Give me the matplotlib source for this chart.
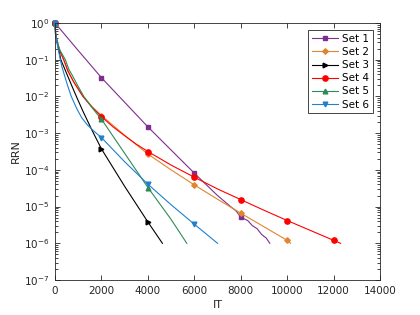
import numpy as np
import matplotlib
matplotlib.use("Agg")
import matplotlib.pyplot as plt
from matplotlib.ticker import NullFormatter, FixedLocator

# iterations and log10(RRN)
it1 = [0, 1000, 2000, 3000, 4000, 5000, 6000, 7000, 7600, 7800, 8000, 8300, 8500, 8700, 8900, 9100, 9250]
lg1 = [0, -0.75, -1.49, -2.16, -2.83, -3.46, -4.09, -4.70, -5.02, -5.12, -5.29, -5.38, -5.52, -5.60, -5.76, -5.86, -6.0]

it2 = [0, 30, 85, 200, 375, 550, 800, 1200, 1600, 2000, 3000, 4000, 5000, 6000, 7000, 8000, 9000, 10000, 10150]
lg2 = [0, -0.3, -0.5, -0.75, -1.0, -1.3, -1.6, -1.99, -2.28, -2.52, -3.06, -3.57, -4.0, -4.41, -4.80, -5.18, -5.55, -5.92, -6.0]

it3 = [0, 20, 85, 250, 450, 850, 1200, 1600, 2000, 3000, 4000, 4625]
lg3 = [0, -0.3, -0.5, -1.0, -1.3, -1.9, -2.4, -2.93, -3.43, -4.45, -5.42, -6.0]

it4 = [0, 30, 85, 200, 375, 550, 800, 1200, 1600, 2000, 2500, 3000, 3500, 4000, 5000, 6000, 7000, 8000, 9000, 10000, 11000, 12000, 12300]
lg4 = [0, -0.3, -0.5, -0.75, -1.0, -1.3, -1.6, -2.0, -2.3, -2.55, -2.83, -3.07, -3.3, -3.5, -3.87, -4.2, -4.52, -4.81, -5.1, -5.38, -5.65, -5.92, -6.0]

it5 = [0, 30, 85, 220, 445, 600, 730, 1000, 1240, 1650, 2000, 3000, 4000, 5000, 5675]
lg5 = [0, -0.3, -0.5, -0.75, -1.0, -1.27, -1.41, -1.73, -2.0, -2.35, -2.62, -3.55, -4.48, -5.35, -6.0]

it6 = [0, 20, 85, 230, 300, 400, 550, 700, 950, 1150, 1400, 1700, 2000, 3000, 4000, 5000, 6000, 7000]
lg6 = [0, -0.3, -0.55, -1.0, -1.2, -1.41, -1.72, -2.0, -2.35, -2.58, -2.78, -2.96, -3.12, -3.78, -4.39, -4.95, -5.48, -6.0]

labels = ["Set 1", "Set 2", "Set 3", "Set 4", "Set 5", "Set 6"]
colors = ["#7E2F8E", "#E08530", "#000000", "#FF0000", "#2E8B57", "#1F80D0"]
markers = ["s", "D", ">", "o", "^", "v"]
msizes = [3, 2.8, 3.4, 3.8, 3.4, 3.4]

series = [(it1, lg1), (it2, lg2), (it3, lg3), (it4, lg4), (it5, lg5), (it6, lg6)]

fig = plt.figure(figsize=(4.2, 3.15), dpi=100)
ax = fig.add_axes([0.131, 0.111, 0.774, 0.816])

for (x, lg), lab, c, m, ms in zip(series, labels, colors, markers, msizes):
    x = np.array(x)
    y = 10.0 ** np.array(lg)
    marks = [i for i, v in enumerate(x) if v % 2000 == 0]
    ax.semilogy(x, y, color=c, linewidth=0.8, marker=m, markersize=ms,
                markevery=marks, label=lab, clip_on=False)

ax.set_xlim(0, 14000)
ax.set_ylim(1e-7, 1)
ax.set_xticks(range(0, 14001, 2000))
ax.yaxis.set_major_locator(FixedLocator([10.0 ** k for k in range(-7, 1)]))
minor = [s * 10.0 ** k for k in range(-7, 0) for s in range(2, 10)]
ax.yaxis.set_minor_locator(FixedLocator(minor))
ax.yaxis.set_minor_formatter(NullFormatter())

ax.tick_params(which="both", direction="in", top=True, right=True,
               labelsize=7.5, colors="#262626", width=0.6)
ax.tick_params(which="major", length=3.5, pad=4)
ax.tick_params(which="minor", length=2)
for s in ax.spines.values():
    s.set_color("#262626")
    s.set_linewidth(0.6)

ax.set_xlabel("IT", fontsize=8, color="#262626", labelpad=3)
ax.set_ylabel("RRN", fontsize=8, color="#262626", labelpad=2)

leg = ax.legend(loc="upper right", fontsize=7.5, fancybox=False, framealpha=1,
                edgecolor="#262626", handlelength=2.5, borderpad=0.35,
                labelspacing=0.3, handletextpad=0.4, borderaxespad=0.7)
leg.get_frame().set_linewidth(0.6)

fig.savefig("out.png", dpi=100)
